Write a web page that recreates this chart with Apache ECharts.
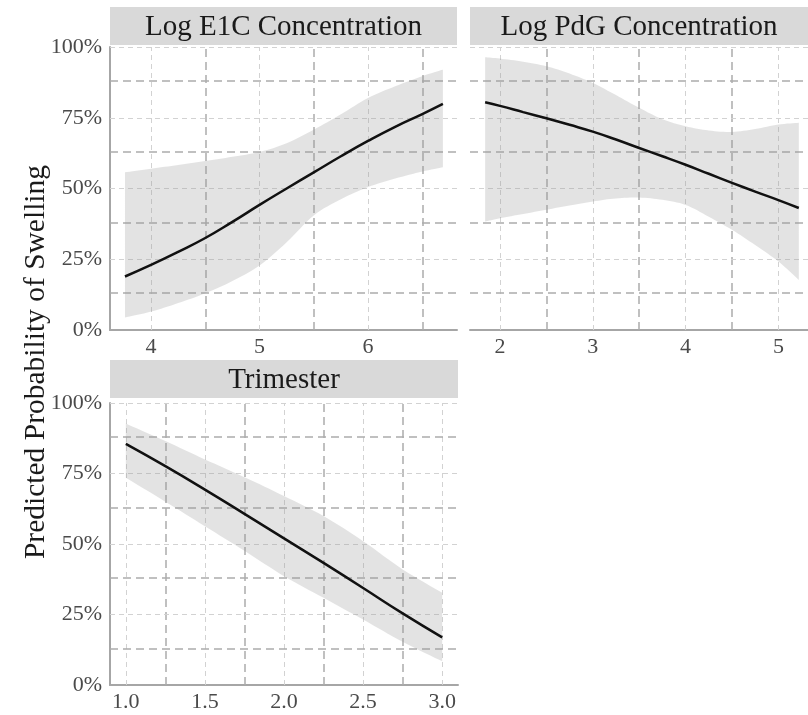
<!DOCTYPE html>
<html>
<head>
<meta charset="utf-8">
<script src="https://cdn.jsdelivr.net/npm/echarts@6/dist/echarts.min.js"></script>
<style>
  html, body { margin: 0; padding: 0; background: #ffffff; }
  #chart { width: 808px; height: 715px; }
</style>
</head>
<body>
<div id="chart"></div>
<script>
// Predicted probability of swelling, one panel per predictor: fitted curve with confidence band.

const panelTitles = ['Log E1C Concentration', 'Log PdG Concentration', 'Trimester'];
const yAxisTitle = 'Predicted Probability of Swelling';

// Shared probability axis
const yTickValues = [0, 0.25, 0.5, 0.75, 1];
const yMajorGrid = [0.25, 0.5, 0.75, 1];
const yMinorGrid = [0.125, 0.375, 0.625, 0.875];

// Log E1C concentration
const e1cX     = [3.76, 4.0, 4.25, 4.5, 4.75, 5.0, 5.25, 5.5, 5.75, 6.0, 6.25, 6.5, 6.69];
const e1cFit   = [0.189, 0.230, 0.276, 0.325, 0.382, 0.442, 0.500, 0.557, 0.614, 0.668, 0.718, 0.763, 0.799];
const e1cUpper = [0.557, 0.570, 0.583, 0.597, 0.612, 0.629, 0.660, 0.708, 0.762, 0.820, 0.861, 0.897, 0.920];
const e1cLower = [0.044, 0.065, 0.095, 0.130, 0.173, 0.228, 0.310, 0.405, 0.462, 0.505, 0.535, 0.560, 0.575];
const e1cTicks = [4, 5, 6];
const e1cMinor = [4.5, 5.5, 6.5];

// Log PdG concentration
const pdgX     = [1.84, 2.0, 2.25, 2.5, 2.75, 3.0, 3.25, 3.5, 3.75, 4.0, 4.25, 4.5, 4.75, 5.0, 5.22];
const pdgFit   = [0.805, 0.792, 0.770, 0.748, 0.725, 0.701, 0.673, 0.643, 0.614, 0.584, 0.552, 0.520, 0.489, 0.459, 0.431];
const pdgUpper = [0.964, 0.959, 0.948, 0.932, 0.906, 0.873, 0.830, 0.785, 0.745, 0.720, 0.705, 0.700, 0.710, 0.726, 0.732];
const pdgLower = [0.383, 0.395, 0.410, 0.425, 0.440, 0.454, 0.465, 0.468, 0.460, 0.442, 0.400, 0.354, 0.300, 0.242, 0.177];
const pdgTicks = [2, 3, 4, 5];
const pdgMinor = [2.5, 3.5, 4.5];

// Trimester
const triX     = [1.0, 1.25, 1.5, 1.75, 2.0, 2.25, 2.5, 2.75, 3.0];
const triFit   = [0.855, 0.776, 0.693, 0.607, 0.520, 0.433, 0.344, 0.254, 0.169];
const triUpper = [0.927, 0.865, 0.800, 0.737, 0.670, 0.599, 0.510, 0.410, 0.327];
const triLower = [0.735, 0.650, 0.563, 0.476, 0.386, 0.309, 0.232, 0.153, 0.084];
const triTicks = [1.0, 1.5, 2.0, 2.5, 3.0];
const triMinor = [1.25, 1.75, 2.25, 2.75];

const SERIF = '"Liberation Serif", "Times New Roman", serif';
const LABEL_COLOR = '#4a4a4a';
const BAND_COLOR = 'rgba(150,150,150,0.27)';
const MAJOR_STYLE = { color: '#d2d2d2', width: 1, type: [5, 4] };
const MINOR_STYLE = { color: '#acacac', width: 1.5, type: [8, 5] };

const panels = [
  { x: e1cX, fit: e1cFit, lo: e1cLower, hi: e1cUpper, ticks: e1cTicks, minor: e1cMinor,
    min: 3.622, max: 6.82, grid: { left: 110, top: 47, width: 347, height: 283 }, yLabels: true,
    fmt: v => String(v) },
  { x: pdgX, fit: pdgFit, lo: pdgLower, hi: pdgUpper, ticks: pdgTicks, minor: pdgMinor,
    min: 1.677, max: 5.319, grid: { left: 470, top: 47, width: 338, height: 283 }, yLabels: false,
    fmt: v => String(v) },
  { x: triX, fit: triFit, lo: triLower, hi: triUpper, ticks: triTicks, minor: triMinor,
    min: 0.9, max: 3.1, grid: { left: 110, top: 403, width: 348, height: 282 }, yLabels: true,
    fmt: v => v.toFixed(1) }
];

const zip = (a, b) => a.map((v, i) => [v, b[i]]);

// Smooth a polyline in screen space (Catmull-Rom), used for the band outline
function smoothPath(pts, steps) {
  const out = [];
  const n = pts.length;
  for (let i = 0; i < n - 1; i++) {
    const p0 = pts[Math.max(i - 1, 0)], p1 = pts[i], p2 = pts[i + 1], p3 = pts[Math.min(i + 2, n - 1)];
    for (let s = 0; s < steps; s++) {
      const t = s / steps, t2 = t * t, t3 = t2 * t;
      const f = (a, b, c, d) => 0.5 * ((2 * b) + (-a + c) * t + (2 * a - 5 * b + 4 * c - d) * t2 + (-a + 3 * b - 3 * c + d) * t3);
      out.push([f(p0[0], p1[0], p2[0], p3[0]), f(p0[1], p1[1], p2[1], p3[1])]);
    }
  }
  out.push(pts[n - 1]);
  return out;
}

const grids = [], xAxes = [], yAxes = [], series = [];

panels.forEach((p, i) => {
  grids.push(Object.assign({ containLabel: false }, p.grid));

  xAxes.push({
    type: 'value', gridIndex: i, min: p.min, max: p.max,
    axisLine: { show: true, lineStyle: { color: '#a6a6a6', width: 2 } },
    axisTick: { show: false },
    splitLine: { show: false },
    axisLabel: {
      customValues: p.ticks,
      formatter: p.fmt,
      color: LABEL_COLOR, fontFamily: SERIF, fontSize: 22, margin: 6
    }
  });

  yAxes.push({
    type: 'value', gridIndex: i, min: 0, max: 1, interval: 0.25,
    axisLine: { show: p.yLabels, lineStyle: { color: '#a6a6a6', width: 2 } },
    axisTick: { show: false },
    splitLine: { show: false },
    axisLabel: {
      show: p.yLabels,
      formatter: v => Math.round(v * 100) + '%',
      color: LABEL_COLOR, fontFamily: SERIF, fontSize: 22, margin: 8
    }
  });

  // Background grid: light dashes at labelled values, darker dashes halfway between
  const gridLines = []
    .concat(p.ticks.map(v => ({ xAxis: v, lineStyle: MAJOR_STYLE })))
    .concat(p.minor.map(v => ({ xAxis: v, lineStyle: MINOR_STYLE })))
    .concat(yMajorGrid.map(v => ({ yAxis: v, lineStyle: MAJOR_STYLE })))
    .concat(yMinorGrid.map(v => ({ yAxis: v, lineStyle: MINOR_STYLE })));

  series.push({
    type: 'line', xAxisIndex: i, yAxisIndex: i, z: 1,
    data: zip(p.x, p.fit), symbol: 'none', silent: true,
    lineStyle: { opacity: 0 },
    markLine: {
      z: 1, silent: true, symbol: 'none', animation: false,
      label: { show: false },
      data: gridLines
    }
  });

  // Confidence band as a filled shape between the upper and lower bounds
  series.push({
    type: 'custom', xAxisIndex: i, yAxisIndex: i, z: 2, silent: true,
    data: [[p.x[0], p.lo[0]]],
    renderItem: (params, api) => {
      const upper = p.x.map((x, k) => api.coord([x, p.hi[k]]));
      const lower = p.x.map((x, k) => api.coord([x, p.lo[k]]));
      const pts = smoothPath(upper, 8).concat(smoothPath(lower, 8).reverse());
      return { type: 'polygon', shape: { points: pts }, style: { fill: BAND_COLOR } };
    }
  });

  series.push({
    type: 'line', xAxisIndex: i, yAxisIndex: i, z: 3,
    data: zip(p.x, p.fit), symbol: 'none', smooth: 0.5, silent: true,
    lineStyle: { color: '#111111', width: 2.5 }
  });
});

// Facet strips and the shared y-axis title
const strips = [
  { x: 110, y: 7, w: 347, h: 38, text: panelTitles[0] },
  { x: 470, y: 7, w: 338, h: 38, text: panelTitles[1] },
  { x: 110, y: 360, w: 348, h: 38, text: panelTitles[2] }
];
const graphic = [];
strips.forEach(s => {
  graphic.push({ type: 'rect', shape: { x: s.x, y: s.y, width: s.w, height: s.h },
                 style: { fill: '#d9d9d9' }, silent: true });
  graphic.push({ type: 'text', x: s.x + s.w / 2, y: s.y + s.h / 2 + 1,
                 style: { text: s.text, font: '29px ' + SERIF, fill: '#1a1a1a',
                          align: 'center', verticalAlign: 'middle' }, silent: true });
});
graphic.push({ type: 'text', x: 36, y: 362, rotation: Math.PI / 2,
               style: { text: yAxisTitle, font: '29.5px ' + SERIF, fill: '#1a1a1a',
                        align: 'center', verticalAlign: 'middle' }, silent: true });

const chart = echarts.init(document.getElementById('chart'));
chart.setOption({
  animation: false,
  backgroundColor: '#ffffff',
  grid: grids,
  xAxis: xAxes,
  yAxis: yAxes,
  series: series,
  graphic: graphic
});
</script>
</body>
</html>
